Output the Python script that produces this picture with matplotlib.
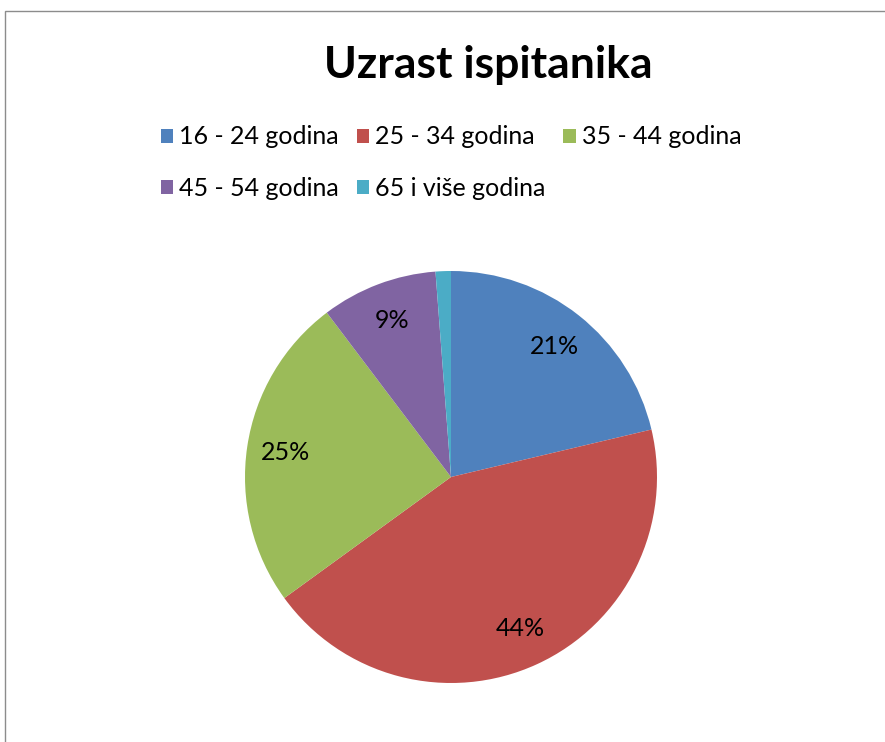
import matplotlib.pyplot as plt
from matplotlib.patches import Patch, Rectangle

# podaci ocitani sa slike
kategorije = ["16 - 24 godina", "25 - 34 godina", "35 - 44 godina",
              "45 - 54 godina", "65 i više godina"]
udjeli = [21.3, 43.7, 24.7, 9.1, 1.2]
boje = ["#4F81BD", "#C0504D", "#9BBB59", "#8064A2", "#4BACC6"]

plt.rcParams["font.family"] = ["Lato", "DejaVu Sans"]

W, H = 885, 742
fig = plt.figure(figsize=(W / 100, H / 100), dpi=100)

# okvir grafikona (gornji i lijevi rub)
fig.patches.append(Rectangle((5 / W, -0.1), 1.2, (H - 10.5) / H + 0.1,
                             transform=fig.transFigure, fill=False,
                             edgecolor="#8c8c8c", linewidth=1.0))

cx, cy, r = 451, 477, 206
ax = fig.add_axes([(cx - r) / W, (H - cy - r) / H, 2 * r / W, 2 * r / H])


def oznaka(p):
    return f"{p:.0f}%" if p > 5 else ""


ax.pie(udjeli, colors=boje, startangle=90, counterclock=False,
       autopct=oznaka, pctdistance=0.81,
       textprops={"fontsize": 18, "color": "black"},
       wedgeprops={"linewidth": 0})
ax.set_xlim(-1, 1)
ax.set_ylim(-1, 1)
ax.set_aspect("equal")
ax.axis("off")

fig.text(488 / W, 1 - 65 / H, "Uzrast ispitanika", ha="center", va="center",
         fontsize=32, fontweight="bold")

# legenda se popunjava po stupcima, pa redoslijed slazemo da ide po redovima
redoslijed = [0, 3, 1, 4, 2]
rucke = [Patch(facecolor=boje[i], edgecolor="none") for i in redoslijed]
fig.legend(rucke, [kategorije[i] for i in redoslijed], loc="upper left",
           bbox_to_anchor=(148 / W, 1 - 113 / H), ncol=3, frameon=False,
           fontsize=18, handlelength=0.5, handleheight=0.5,
           handletextpad=0.25, columnspacing=0.7, labelspacing=1.12,
           borderpad=0)

fig.savefig("out.png", dpi=100)
